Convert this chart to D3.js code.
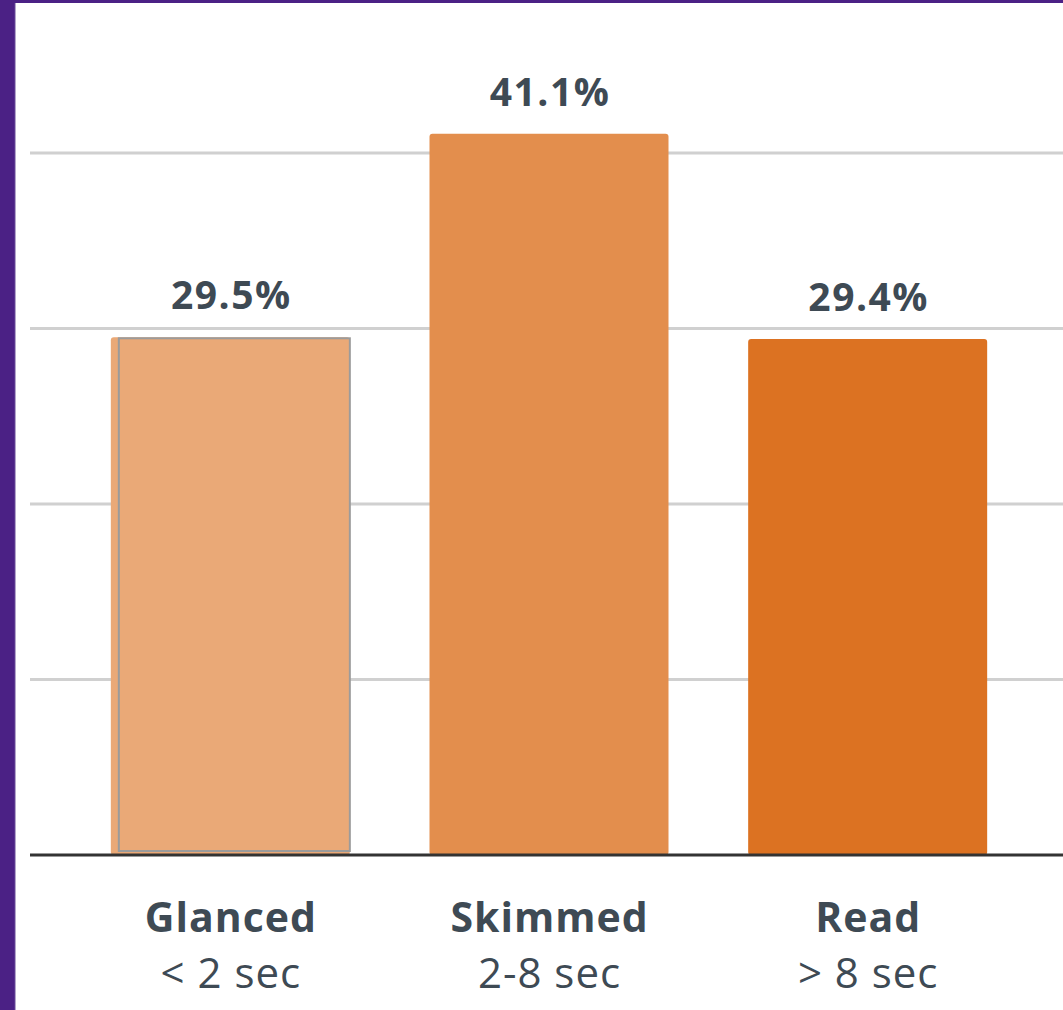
<!DOCTYPE html>
<html>
<head>
<meta charset="utf-8">
<script src="https://cdn.jsdelivr.net/npm/d3@7"></script>
<style>
  html, body { margin: 0; padding: 0; background: #4b2185; }
  svg { display: block; }
</style>
</head>
<body>
<script>
const categories = ["Glanced", "Skimmed", "Read"];
const subLabels = ["< 2 sec", "2-8 sec", "> 8 sec"];
const values = [29.5, 41.1, 29.4];
const valueLabels = ["29.5%", "41.1%", "29.4%"];
const gridTicks = [10, 20, 30, 40];
const barColors = ["#eaa977", "#e38e4d", "#dc7222"];

const W = 1063, H = 1010;
const svg = d3.select("body").append("svg").attr("width", W).attr("height", H);

// purple frame
svg.append("rect").attr("x", 0).attr("y", 0).attr("width", W).attr("height", H).attr("fill", "#4b2185");
svg.append("rect").attr("x", 15).attr("y", 3).attr("width", W - 15).attr("height", H - 3).attr("fill", "#ffffff");
svg.append("line").attr("x1", 15).attr("x2", 15).attr("y1", 3).attr("y2", H).attr("stroke", "#6a4c99").attr("stroke-width", 1);

const x = d3.scaleBand().domain(categories).range([71, 1027]).paddingInner(0.25).paddingOuter(0.125);
const y = d3.scaleLinear().domain([0, 45]).range([855, 855 - 45 * 17.55]);

// gridlines
svg.append("g").selectAll("line").data(gridTicks).join("line")
  .attr("x1", 30).attr("x2", W)
  .attr("y1", d => y(d)).attr("y2", d => y(d))
  .attr("stroke", "#d0d0d0").attr("stroke-width", 3);

const data = categories.map((c, i) => ({c, v: values[i], label: valueLabels[i], sub: subLabels[i], color: barColors[i]}));

// bars
svg.append("g").selectAll("rect").data(data).join("rect")
  .attr("x", d => x(d.c)).attr("width", x.bandwidth())
  .attr("y", d => y(d.v)).attr("height", d => y(0) - y(d.v))
  .attr("rx", 3).attr("fill", d => d.color);

// inset grey outline on first bar (as in reference)
svg.append("rect")
  .attr("x", x(categories[0]) + 8).attr("width", x.bandwidth() - 8)
  .attr("y", y(values[0]) + 1).attr("height", y(0) - y(values[0]) - 5)
  .attr("fill", "none").attr("stroke", "#9b9b9b").attr("stroke-width", 2);

// baseline
svg.append("line").attr("x1", 30).attr("x2", W).attr("y1", y(0)).attr("y2", y(0))
  .attr("stroke", "#333333").attr("stroke-width", 3);

const font = "'Open Sans', Lato, sans-serif";
const textColor = "#3e4a54";

// value labels
svg.append("g").selectAll("text").data(data).join("text")
  .attr("x", d => x(d.c) + x.bandwidth() / 2 + 1)
  .attr("y", d => y(d.v) - 28)
  .attr("text-anchor", "middle")
  .attr("font-family", font).attr("font-weight", 700).attr("font-size", 39)
  .attr("letter-spacing", 1.5)
  .attr("fill", textColor)
  .text(d => d.label);

// category labels
svg.append("g").selectAll("text").data(data).join("text")
  .attr("x", d => x(d.c) + x.bandwidth() / 2 + 0.5)
  .attr("y", 932)
  .attr("text-anchor", "middle")
  .attr("font-family", font).attr("font-weight", 700).attr("font-size", 41)
  .attr("letter-spacing", 1)
  .attr("fill", textColor)
  .text(d => d.c);

svg.append("g").selectAll("text").data(data).join("text")
  .attr("x", d => x(d.c) + x.bandwidth() / 2 + 0.5)
  .attr("y", 988)
  .attr("text-anchor", "middle")
  .attr("font-family", font).attr("font-weight", 400).attr("font-size", 42)
  .attr("letter-spacing", 1)
  .attr("fill", textColor)
  .text(d => d.sub);
</script>
</body>
</html>
